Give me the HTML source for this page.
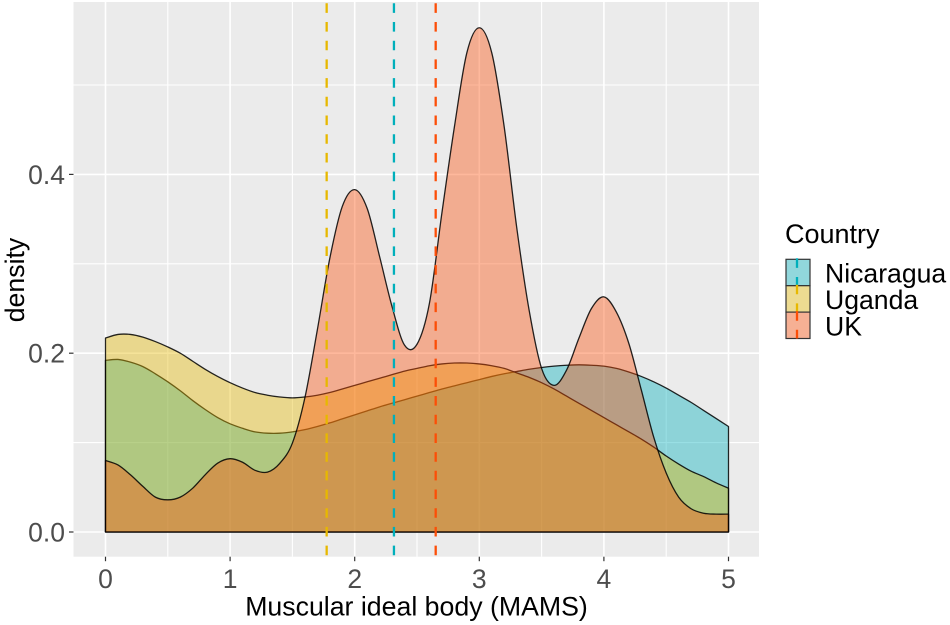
<!DOCTYPE html>
<html>
<head>
<meta charset="utf-8">
<style>
html,body{margin:0;padding:0;background:#fff;}
body{width:950px;height:625px;overflow:hidden;}
svg{display:block;font-family:"Liberation Sans",Arial,sans-serif;}
</style>
</head>
<body>
<svg id="chart" width="950" height="625" viewBox="0 0 950 625" xmlns="http://www.w3.org/2000/svg">
  <rect x="73.5" y="2" width="685.5" height="554.7" fill="#ebebeb"/>
  <g id="grid"></g>
  <g id="areas"></g>
  <g id="vlines"></g>
  <g id="axes"></g>
  <text x="416.5" y="615.5" font-size="26.7" text-anchor="middle" fill="#000">Muscular ideal body (MAMS)</text>
  <text transform="translate(24,280) rotate(-90)" font-size="26.7" text-anchor="middle" fill="#000">density</text>
  <g id="legend"></g>
</svg>
<script>
const xGrid = [0,0.1,0.2,0.3,0.4,0.5,0.6,0.7,0.8,0.9,1,1.1,1.2,1.3,1.4,1.5,1.6,1.7,1.8,1.9,2,2.1,2.2,2.3,2.4,2.5,2.6,2.7,2.8,2.9,3,3.1,3.2,3.3,3.4,3.5,3.6,3.7,3.8,3.9,4,4.1,4.2,4.3,4.4,4.5,4.6,4.7,4.8,4.9,5];
const nicaraguaDensity = [0.192,0.193,0.19,0.185,0.177,0.168,0.158,0.147,0.137,0.128,0.121,0.116,0.112,0.1105,0.1105,0.112,0.1145,0.118,0.122,0.1265,0.131,0.1355,0.14,0.144,0.148,0.152,0.156,0.16,0.1635,0.167,0.1705,0.174,0.177,0.1795,0.182,0.184,0.1855,0.1865,0.187,0.1865,0.1855,0.183,0.179,0.174,0.168,0.161,0.153,0.145,0.136,0.127,0.118];
const ugandaDensity = [0.217,0.221,0.221,0.218,0.213,0.207,0.2,0.191,0.182,0.174,0.167,0.161,0.156,0.153,0.151,0.15,0.151,0.153,0.156,0.16,0.164,0.168,0.172,0.176,0.18,0.183,0.186,0.188,0.189,0.189,0.188,0.186,0.183,0.178,0.173,0.167,0.16,0.152,0.144,0.136,0.128,0.12,0.112,0.104,0.095,0.085,0.076,0.068,0.062,0.055,0.049];
const ukDensity = [0.08,0.075,0.064,0.051,0.039,0.036,0.039,0.049,0.064,0.077,0.082,0.078,0.069,0.067,0.077,0.0995,0.15,0.226,0.306,0.364,0.383,0.362,0.308,0.252,0.209,0.21,0.256,0.357,0.453,0.536,0.564,0.536,0.453,0.341,0.248,0.183,0.164,0.181,0.217,0.25,0.263,0.246,0.211,0.159,0.106,0.066,0.039,0.026,0.021,0.02,0.02];
const countries = ["Nicaragua","Uganda","UK"];
const countryColors = ["#00AFBB","#E7B800","#FC4E07"];
const countryMeans = [2.315,1.775,2.65];
const xTicks = [0,1,2,3,4,5];
const xMinorTicks = [0.5,1.5,2.5,3.5,4.5];
const yTicks = [0,0.2,0.4];
const yMinorTicks = [0.1,0.3,0.5];
const yTickLabels = ["0.0","0.2","0.4"];

const NS = "http://www.w3.org/2000/svg";
const PANEL = {left:73.5,right:759,top:2,bottom:556.7};
function xScale(v){return 105.5 + v*124.6;}
function yScale(v){return 532 - v*894;}
function mk(parent,tag,attrs){
  const el = document.createElementNS(NS,tag);
  for(const k in attrs){el.setAttribute(k,attrs[k]);}
  parent.appendChild(el);
  return el;
}
function splinePath(xs,ys){
  const p = xs.map((x,i)=>[xScale(x),yScale(ys[i])]);
  let d = "M"+p[0][0].toFixed(2)+","+p[0][1].toFixed(2);
  for(let i=0;i<p.length-1;i++){
    const a=p[Math.max(i-1,0)],b=p[i],c=p[i+1],e=p[Math.min(i+2,p.length-1)];
    const c1x=b[0]+(c[0]-a[0])/6,c1y=b[1]+(c[1]-a[1])/6;
    const c2x=c[0]-(e[0]-b[0])/6,c2y=c[1]-(e[1]-b[1])/6;
    d+="C"+c1x.toFixed(2)+","+c1y.toFixed(2)+" "+c2x.toFixed(2)+","+c2y.toFixed(2)+" "+c[0].toFixed(2)+","+c[1].toFixed(2);
  }
  return d;
}

const grid = document.getElementById("grid");
xMinorTicks.forEach(v=>{
  const l = mk(grid,"line",{x1:xScale(v),x2:xScale(v),y1:PANEL.top,y2:PANEL.bottom,stroke:"#fff","stroke-width":1.1});
  
  
});
yMinorTicks.forEach(v=>{
  const l = mk(grid,"line",{x1:PANEL.left,x2:PANEL.right,y1:yScale(v),y2:yScale(v),stroke:"#fff","stroke-width":1.1});
  
  
});
xTicks.forEach(v=>{
  const l = mk(grid,"line",{x1:xScale(v),x2:xScale(v),y1:PANEL.top,y2:PANEL.bottom,stroke:"#fff","stroke-width":1.6});
  
  
});
yTicks.forEach(v=>{
  const l = mk(grid,"line",{x1:PANEL.left,x2:PANEL.right,y1:yScale(v),y2:yScale(v),stroke:"#fff","stroke-width":1.6});
  
  
});

const areas = document.getElementById("areas");
const seriesValues = [nicaraguaDensity,ugandaDensity,ukDensity];
seriesValues.forEach((vals,i)=>{
  const d = splinePath(xGrid,vals)
    +"L"+xScale(xGrid[xGrid.length-1]).toFixed(2)+","+yScale(0).toFixed(2)
    +"L"+xScale(xGrid[0]).toFixed(2)+","+yScale(0).toFixed(2)+"Z";
  const fillEl = mk(areas,"path",{d:d,fill:countryColors[i],"fill-opacity":0.4,stroke:"none"});
  
  
  const lineEl = mk(areas,"path",{d:d,fill:"none",stroke:"#000","stroke-width":1.3,"stroke-opacity":0.85,"stroke-linejoin":"round"});
  
  
});

const vlines = document.getElementById("vlines");
countryMeans.forEach((m,i)=>{
  const l = mk(vlines,"line",{x1:xScale(m),x2:xScale(m),y1:3.3,y2:PANEL.bottom,stroke:countryColors[i],"stroke-width":2.3,"stroke-dasharray":"9.6 9.1"});
  
  
});

const axes = document.getElementById("axes");
xTicks.forEach(v=>{
  const t = mk(axes,"line",{x1:xScale(v),x2:xScale(v),y1:PANEL.bottom,y2:PANEL.bottom+4.5,stroke:"#333","stroke-width":1.2});
  
  
  const lab = mk(axes,"text",{x:xScale(v),y:588,"font-size":26.5,"text-anchor":"middle",fill:"#4d4d4d"});
  
  
  lab.textContent = String(v);
});
yTicks.forEach((v,i)=>{
  const t = mk(axes,"line",{x1:PANEL.left-4.5,x2:PANEL.left,y1:yScale(v),y2:yScale(v),stroke:"#333","stroke-width":1.2});
  
  
  const lab = mk(axes,"text",{x:65,y:yScale(v)+9.5,"font-size":26.5,"text-anchor":"end",fill:"#4d4d4d"});
  
  
  lab.textContent = yTickLabels[i];
});

const legend = document.getElementById("legend");


const legendTitle = mk(legend,"text",{x:785,y:243,"font-size":27,fill:"#000"});


legendTitle.textContent = "Country";
countries.forEach((name,i)=>{
  const top = 259.3 + i*26.4;
  const bg = mk(legend,"rect",{x:786,y:top,width:24,height:26.4,fill:"#f2f2f2"});
  
  
  const sw = mk(legend,"rect",{x:786,y:top,width:24,height:26.4,fill:countryColors[i],"fill-opacity":0.4,stroke:"#333","stroke-width":1.2});
  
  
  const dl = mk(legend,"line",{x1:797,x2:797,y1:top-1,y2:top+26.4,stroke:countryColors[i],"stroke-width":2.3,"stroke-dasharray":"9.6 9.1"});
  
  
  const lab = mk(legend,"text",{x:825,y:top+23.3,"font-size":26.6,fill:"#000"});
  
  
  lab.textContent = name;
});
</script>
</body>
</html>
